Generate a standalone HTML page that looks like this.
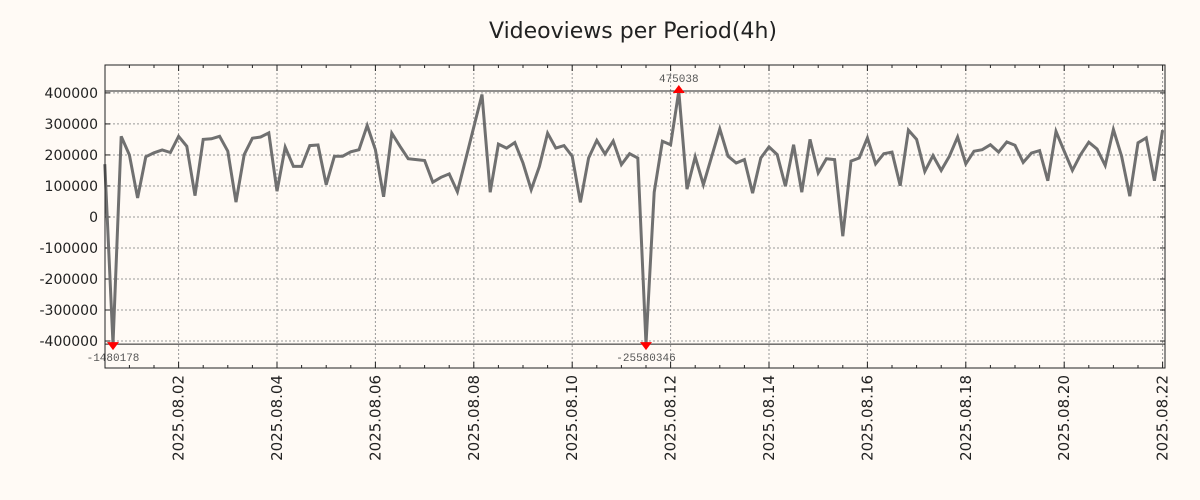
<!DOCTYPE html>
<html><head><meta charset="utf-8"><style>
body{margin:0;background:#fffaf5;}
svg{display:block;font-family:"DejaVu Sans","Liberation Sans",sans-serif;}
</style></head><body>
<svg id="chart" width="1200" height="500" viewBox="0 0 1200 500" xmlns="http://www.w3.org/2000/svg">
<rect width="1200" height="500" fill="#fffaf5"/>
<text x="633" y="38" font-size="22" text-anchor="middle" fill="#222">Videoviews per Period(4h)</text>
<g id="grid"></g>
<g id="axes"></g>
<g id="series"></g>
<g id="marks"></g>
<rect x="105" y="65" width="1060" height="303" fill="none" stroke="#222" stroke-width="1"/>
</svg>
<script>
// Data (4h periods, first point at 2025-07-31 12:00)
const startLabel = "2025-07-31 12:00";
const values = [170000,-1480178,260000,200000,61000,194000,207000,216000,208000,260000,
228000,69000,250000,252000,260000,212000,48000,201000,254000,258000,
271000,83000,225000,163000,163000,230000,232000,104000,196000,196000,
210000,217000,295000,217000,65000,270000,228000,188000,185000,182000,
112000,128000,139000,81000,185000,290000,395000,80000,235000,222000,
240000,174000,88000,163000,270000,222000,230000,196000,47000,190000,
247000,203000,245000,169000,204000,190000,-25580346,80000,244000,233000,
475038,90000,194000,104000,194000,284000,196000,174000,185000,77000,
190000,226000,201000,99000,233000,80000,250000,142000,188000,185000,
-62000,180000,190000,255000,171000,204000,209000,101000,280000,250000,
147000,198000,150000,196000,258000,171000,212000,217000,233000,209000,
242000,231000,176000,206000,214000,117000,276000,212000,150000,201000,
241000,219000,166000,282000,196000,67000,239000,255000,117000,280000];
const yTicks = [400000,300000,200000,100000,0,-100000,-200000,-300000,-400000];
const xTickLabels = ["2025.08.02","2025.08.04","2025.08.06","2025.08.08","2025.08.10","2025.08.12","2025.08.14","2025.08.16","2025.08.18","2025.08.20","2025.08.22"];
const xTickIndex = [9,21,33,45,57,69,81,93,105,117,129];
const yDomain = [-487000, 490000];
const clipHigh = 406000, clipLow = -410000;

const NS = "http://www.w3.org/2000/svg";
const L=105,R=1165,T=65,B=368;
const X = i => 113 + (i-1)*8.2;
const Y = v => B - (v - yDomain[0])/(yDomain[1]-yDomain[0])*(B-T);
function mk(tag, attrs, parent){const e=document.createElementNS(NS,tag);for(const k in attrs)e.setAttribute(k,attrs[k]);parent.appendChild(e);return e;}
const grid=document.getElementById('grid'), axes=document.getElementById('axes'), series=document.getElementById('series'), marks=document.getElementById('marks');

yTicks.forEach(v=>{
  const y=Y(v);
  const g=mk('line',{x1:L,x2:R,y1:y,y2:y,stroke:'#999','stroke-dasharray':'2,2','stroke-width':1},grid);
  
  
  mk('line',{x1:L,x2:L+5,y1:y,y2:y,stroke:'#222'},axes);
  mk('line',{x1:R-5,x2:R,y1:y,y2:y,stroke:'#222'},axes);
  const t=mk('text',{x:98,y:y+5,'font-size':14,'text-anchor':'end',fill:'#222'},axes);
  t.textContent=String(v);
  
  
});
for(let i=3;i<=129;i+=3){
  const x=X(i);
  const len = ((i-9)%12===0)?6:3;
  mk('line',{x1:x,x2:x,y1:T,y2:T+len,stroke:'#222'},axes);
  mk('line',{x1:x,x2:x,y1:B-len,y2:B,stroke:'#222'},axes);
}
xTickIndex.forEach((i,k)=>{
  const x=X(i);
  const g=mk('line',{x1:x,x2:x,y1:T,y2:B,stroke:'#999','stroke-dasharray':'2,2','stroke-width':1},grid);
  
  
  const t=mk('text',{x:0,y:0,'font-size':15,'text-anchor':'end',fill:'#222',transform:`translate(${x+5},${B+7}) rotate(-90)`},axes);
  t.textContent=xTickLabels[k];
  
  
});
// clip guide lines
[clipHigh,clipLow].forEach(v=>{
  const l=mk('line',{x1:L,x2:R,y1:Y(v),y2:Y(v),stroke:'#222','stroke-width':1},grid);
  
  
});
const clamp=v=>Math.max(clipLow,Math.min(clipHigh,v));
const pts=values.map((v,i)=>X(i).toFixed(1)+','+Y(clamp(v)).toFixed(1)).join(' ');
const line=mk('polyline',{points:pts,fill:'none',stroke:'#707070','stroke-width':3,'stroke-linejoin':'miter'},series);



// extremes: global max and the two big negative outliers
const maxIdx=values.indexOf(Math.max(...values));
const lowIdx=values.map((v,i)=>[v,i]).filter(p=>p[0]<clipLow).map(p=>p[1]);
function marker(i,up){
  const x=X(i), y=Y(clamp(values[i]));
  const p=mk('polygon',{points: up?`${x-6},${y+2} ${x+6},${y+2} ${x},${y-6}`:`${x-6},${y-2} ${x+6},${y-2} ${x},${y+6}`,fill:'#f00'},marks);
  
  
  const t=mk('text',{x:x,y:up?y-9:y+17,'font-size':11,'text-anchor':'middle',fill:'#555','font-family':'"Liberation Mono",monospace'},marks);
  t.textContent=String(values[i]);
  
  
}
marker(maxIdx,true);
lowIdx.forEach(i=>marker(i,false));
</script>
</body></html>
